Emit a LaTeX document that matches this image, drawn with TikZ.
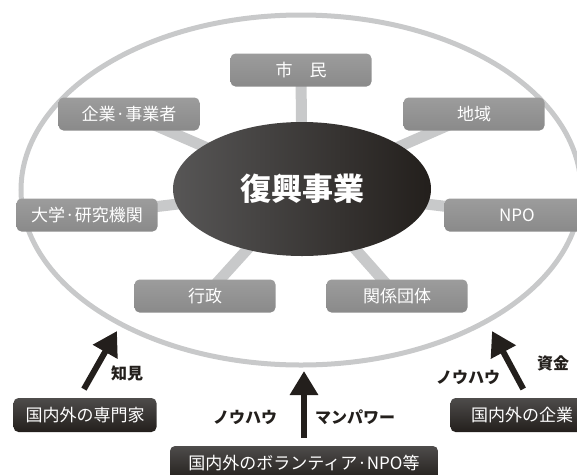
\documentclass[tikz,border=0pt]{standalone}
\usepackage{fontspec}
\setmainfont{Noto Sans CJK JP}
\usepackage{tikz}
\usetikzlibrary{positioning,shapes.geometric,arrows.meta,backgrounds}
\definecolor{ring}{HTML}{C8C9CA}
\definecolor{boxtop}{HTML}{9C9C9C}
\definecolor{boxbot}{HTML}{8A8A8A}
\definecolor{ink}{HTML}{231F1C}
\definecolor{inktop}{HTML}{4E4C4B}
\definecolor{hubleft}{HTML}{575656}

\begin{document}
\begin{tikzpicture}[x = 1pt, y = -1pt,
    hub/.style = { ellipse, left color = hubleft, right color = ink, text = white,
      minimum width = 258pt, minimum height = 134pt, inner sep = 0pt,
      font = \bfseries\fontsize{31}{31}\selectfont },
    member/.style = { rounded corners = 5pt, top color = boxtop, bottom color = boxbot,
      text = white, minimum width = 141pt, minimum height = 33pt, inner sep = 0pt,
      font = \fontsize{17}{17}\selectfont },
    outsider/.style = { rounded corners = 5pt, top color = inktop, bottom color = ink,
      text = white, minimum width = 143pt, minimum height = 34pt, inner sep = 0pt,
      font = \fontsize{17}{17}\selectfont },
    tie/.style = { line width = 11pt, ring },
    push/.style = { line width = 6pt, ink, -{Triangle[length = 24pt, width = 27pt]} },
    gain/.style = { text = ink, font = \bfseries\fontsize{16}{16}\selectfont }]
    \useasboundingbox (0,0) rectangle (577,474);

    \node [hub] (hub) at (302,189) {復興事業};
    \node [member] (citizen)  at (301,70)  {市　民};
    \node [member] (firm)     at (129,114) {企業·事業者};
    \node [member] (region)   at (474,114) {地域};
    \node [member] (academia) at (87,215)  {大学·研究機関};
    \node [member, minimum width = 145pt] (npo) at (517,215) {NPO};
    \node [member] (admin)    at (205,296) {行政};
    \node [member] (assoc)    at (397,296) {関係団体};

    \begin{scope}[on background layer]
      \draw [ring, line width = 5pt] (301,190) ellipse [x radius = 280pt, y radius = 175pt];
      \foreach \m in {citizen, firm, region, academia, npo, admin, assoc}
        \draw [tie] (hub.center) -- (\m.center);
    \end{scope}

    \node [outsider] (expert)  at (85,415)  {国内外の専門家};
    \node [outsider] (company) at (522,415) {国内外の企業};
    \node [outsider, minimum width = 268pt] (volunteer) at (304,463) {国内外のボランティア·NPO等};

    \coordinate (tipL) at (117,331);
    \coordinate (tipM) at (304,371);
    \coordinate (tipR) at (492,331);
    \draw [push, shorten <= 10pt] ([xshift = -6pt]expert.north) -- (tipL);
    \draw [push, shorten <= 8pt] (volunteer.north) -- (tipM);
    \draw [push, shorten <= 10pt] ([xshift = 6pt]company.north) -- (tipR);

    \node [gain] (insight)  at (127,373) {知見};
    \node [gain] (knowL)    at (245,417) {ノウハウ};
    \node [gain] (manpower) at (355,417) {マンパワー};
    \node [gain] (knowR)    at (468,377) {ノウハウ};
    \node [gain] (funds)    at (553,363) {資金};
\end{tikzpicture}
\end{document}
